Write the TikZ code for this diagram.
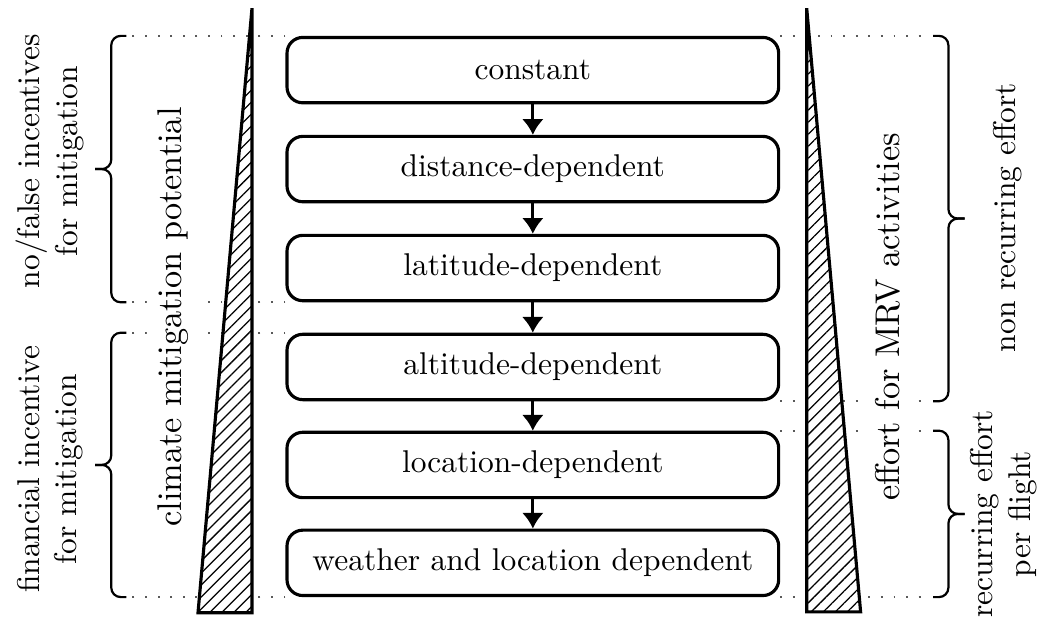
\documentclass[tikz,border=0pt]{standalone}
\usepackage{amssymb, amsmath}
\usepackage{tikz}
\usetikzlibrary{arrows.meta, calc, patterns.meta}

\begin{document}
\begin{tikzpicture}[
        level/.style={draw, line width=1pt, rounded corners=5pt, minimum width=5.49cm, minimum height=0.73cm, inner sep=0pt},
        flow/.style={line width=1pt, -{Latex[length=5pt, width=7pt]}},
        guide/.style={black!65, line width=0.6pt, dash pattern=on 0.6pt off 3.4pt},
        grp/.style={line width=0.7pt, rounded corners=3pt},
        wedge/.style={line width=1pt, preaction={fill=white}, pattern={Lines[angle=45, distance=2.7pt, line width=0.4pt]}},
        tag/.style={rotate=90, align=center},
        axis label/.style={rotate=90, fill=white, rounded corners=3pt, font=\fontsize{10.9pt}{13pt}\selectfont}
    ]
            \useasboundingbox (-5.95,-3.36) rectangle (5.73,3.54);

            \node[level] (constant) at (0, 2.757) {constant};
            \node[level] (distance) at (0, 1.652) {distance-dependent};
            \node[level] (latitude) at (0, 0.547) {latitude-dependent};
            \node[level] (altitude) at (0,-0.558) {altitude-dependent};
            \node[level] (location) at (0,-1.652) {location-dependent};
            \node[level] (weather) at (0,-2.745) {weather and location dependent};

            \draw[flow] (constant) -- (distance);
            \draw[flow] (distance) -- (latitude);
            \draw[flow] (latitude) -- (altitude);
            \draw[flow] (altitude) -- (location);
            \draw[flow] (location) -- (weather);

            % dotted guides to the braces
            \draw[guide] (constant.north west) -- ++(-1.72,0);
            \draw[guide] (latitude.south west) -- ++(-1.72,0);
            \draw[guide] (altitude.north west) -- ++(-1.72,0);
            \draw[guide] (weather.south west) -- ++(-1.72,0);
            \draw[guide] (constant.north east) -- ++(1.65,0);
            \draw[guide] (altitude.south east) -- ++(1.65,0);
            \draw[guide] (location.north east) -- ++(1.65,0);
            \draw[guide] (weather.south east) -- ++(1.65,0);

            % wedges
            \draw[wedge] (-3.136,3.448) -- (-3.136,-3.303) -- (-3.739,-3.303) -- cycle;
            \draw[wedge] (3.058,3.448) -- (3.058,-3.292) -- (3.660,-3.292) -- cycle;

            \node[axis label] (potential) at (-4.02,0) {climate mitigation potential};
            \node[axis label] (effort) at (3.96,0) {effort for MRV activities};

            % braces
            \coordinate (nf top) at ([xshift=-1.775cm]constant.north west);
            \coordinate (nf bot) at ([xshift=-1.775cm]latitude.south west);
            \coordinate (fi top) at ([xshift=-1.775cm]altitude.north west);
            \coordinate (fi bot) at ([xshift=-1.775cm]weather.south west);
            \coordinate (nr top) at ([xshift=1.708cm]constant.north east);
            \coordinate (nr bot) at ([xshift=1.708cm]altitude.south east);
            \coordinate (rc top) at ([xshift=1.708cm]location.north east);
            \coordinate (rc bot) at ([xshift=1.708cm]weather.south east);

            \coordinate (nf tip) at ($(nf top)!0.5!(nf bot)+(-0.35,0)$);
            \coordinate (fi tip) at ($(fi top)!0.5!(fi bot)+(-0.35,0)$);
            \coordinate (nr tip) at ($(nr top)!0.5!(nr bot)+(0.35,0)$);
            \coordinate (rc tip) at ($(rc top)!0.5!(rc bot)+(0.35,0)$);

            \draw[grp] (nf top) -- ++(-0.17,0) |- (nf tip);
            \draw[grp] (nf bot) -- ++(-0.17,0) |- (nf tip);
            \draw[grp] (fi top) -- ++(-0.17,0) |- (fi tip);
            \draw[grp] (fi bot) -- ++(-0.17,0) |- (fi tip);
            \draw[grp] (nr top) -- ++(0.17,0) |- (nr tip);
            \draw[grp] (nr bot) -- ++(0.17,0) |- (nr tip);
            \draw[grp] (rc top) -- ++(0.17,0) |- (rc tip);
            \draw[grp] (rc bot) -- ++(0.17,0) |- (rc tip);

            \node[tag] (nofalse) at (-5.39,1.74) {no/false incentives\\for mitigation};
            \node[tag] (financial) at (-5.39,-1.70) {financial incentive\\for mitigation};
            \node[tag] (nonrec) at (5.30,1.11) {non recurring effort};
            \node[tag] (rec) at (5.26,-2.20) {recurring effort\\per flight};
\end{tikzpicture}
\end{document}
